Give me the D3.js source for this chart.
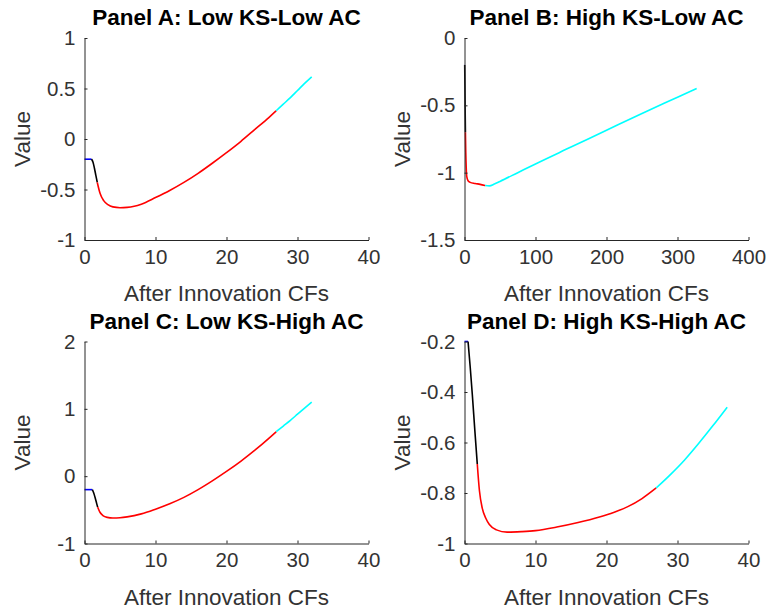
<!DOCTYPE html>
<html>
<head>
<meta charset="utf-8">
<script src="https://cdn.jsdelivr.net/npm/d3@7"></script>
<style>
  body { margin: 0; background: #fff; }
  svg { display: block; }
</style>
</head>
<body>
<div class="canvas"></div>
<script>
'use strict';

// panel titles and tick values
var titles = ['Panel A: Low KS-Low AC', 'Panel B: High KS-Low AC', 'Panel C: Low KS-High AC', 'Panel D: High KS-High AC'];
var xTicksShort = [0, 10, 20, 30, 40];
var xTicksLong = [0, 100, 200, 300, 400];
var yTicksA = [-1, -0.5, 0, 0.5, 1];
var yTicksB = [-1.5, -1, -0.5, 0];
var yTicksC = [-1, 0, 1, 2];
var yTicksD = [-1, -0.8, -0.6, -0.4, -0.2];

// curve pieces [x, value]
var aBlue = [[0, -0.2], [0.5, -0.2], [1.0, -0.2]];
var aBlack = [[1.0, -0.2], [1.2, -0.23], [1.4, -0.29], [1.6, -0.36], [1.8, -0.43]];
var aRed = [[1.8, -0.43], [2.2, -0.54], [2.7, -0.61], [3.3, -0.65], [4, -0.672], [5, -0.68], [6, -0.677], [7, -0.666], [8, -0.645],
    [10, -0.58], [12, -0.51], [14, -0.43], [16, -0.34], [18, -0.24], [20, -0.135], [22, -0.025], [24, 0.095], [26, 0.215], [27, 0.28]];
var aCyan = [[27, 0.28], [28, 0.345], [29, 0.41], [30, 0.48], [31, 0.55], [32, 0.615]];

var bBlue = [[0, -0.2], [0.3, -0.2]];
var bBlack = [[0.3, -0.2], [0.6, -0.35], [0.9, -0.52], [1.3, -0.7]];
var bRed = [[1.3, -0.7], [1.8, -0.85], [2.4, -0.96], [3.2, -1.03], [5, -1.06], [8, -1.072], [15, -1.08], [22, -1.087], [29, -1.095]];
var bCyan = [[29, -1.095], [35, -1.098], [42, -1.085], [50, -1.065], [75, -1.0], [100, -0.935], [150, -0.81], [200, -0.685], [250, -0.56], [300, -0.44], [327, -0.375]];

var cBlue = [[0, -0.2], [0.5, -0.2], [1.1, -0.2]];
var cBlack = [[1.1, -0.2], [1.3, -0.25], [1.5, -0.32], [1.7, -0.4], [1.85, -0.46]];
var cRed = [[1.85, -0.46], [2.2, -0.54], [2.6, -0.585], [3.2, -0.612], [4, -0.622], [5, -0.618], [6, -0.605], [8, -0.56],
    [10, -0.49], [12, -0.41], [14, -0.315], [16, -0.2], [18, -0.07], [20, 0.07], [22, 0.22], [24, 0.385], [26, 0.565], [27, 0.66]];
var cCyan = [[27, 0.66], [28, 0.745], [29, 0.83], [30, 0.92], [31, 1.01], [32, 1.1]];

var dBlue = [[0, -0.2], [0.5, -0.2]];
var dBlack = [[0.5, -0.2], [0.8, -0.3], [1.1, -0.41], [1.45, -0.55], [1.8, -0.685]];
var dRed = [[1.8, -0.685], [2.1, -0.79], [2.5, -0.86], [3, -0.9], [3.5, -0.925], [4.5, -0.946], [6, -0.955], [8, -0.953],
    [10, -0.949], [13, -0.935], [16, -0.917], [19, -0.895], [21, -0.877], [23, -0.854], [25, -0.822], [27, -0.78]];
var dCyan = [[27, -0.78], [29, -0.727], [31, -0.669], [33, -0.603], [35, -0.533], [37, -0.46]];

var segColors = ['#0000ff', '#000000', '#ff0000', '#00ffff'];

// layout of the four axes boxes
var plotW = 284, plotH = 202;
var panels = [
    { title: titles[0], left: 84.5, top: 38, xDomain: [0, 40], xTicks: xTicksShort, yDomain: [-1, 1], yTicks: yTicksA, segs: [aBlue, aBlack, aRed, aCyan] },
    { title: titles[1], left: 464.5, top: 38, xDomain: [0, 400], xTicks: xTicksLong, yDomain: [-1.5, 0], yTicks: yTicksB, segs: [bBlue, bBlack, bRed, bCyan] },
    { title: titles[2], left: 84.5, top: 341.5, xDomain: [0, 40], xTicks: xTicksShort, yDomain: [-1, 2], yTicks: yTicksC, segs: [cBlue, cBlack, cRed, cCyan] },
    { title: titles[3], left: 464.5, top: 341.5, xDomain: [0, 40], xTicks: xTicksShort, yDomain: [-1, -0.2], yTicks: yTicksD, segs: [dBlue, dBlack, dRed, dCyan] }
];

var svg = d3.select(".canvas")
    .append("svg")
    .attr("width", 768)
    .attr("height", 616)
    .style("font-family", "'Liberation Sans', Arial, sans-serif");

panels.forEach(function(p) {
    var xScale = d3.scaleLinear().domain(p.xDomain).range([0, plotW]);
    var yScale = d3.scaleLinear().domain(p.yDomain).range([plotH, 0]);

    var g = svg.append("g").attr("transform", "translate(" + p.left + "," + p.top + ")");

    var line = d3.line()
        .x(function(d) { return xScale(d[0]); })
        .y(function(d) { return yScale(d[1]); })
        .curve(d3.curveMonotoneX);

    p.segs.forEach(function(s, i) {
        g.append("path")
            .datum(s)
            .attr("d", line)
            .attr("fill", "none")
            .attr("stroke", segColors[i])
            .attr("stroke-width", 1.6)
            .attr("stroke-linejoin", "round");
    });

    var xAxis = g.append("g")
        .attr("transform", "translate(0," + plotH + ")")
        .call(d3.axisBottom(xScale).tickValues(p.xTicks).tickFormat(function(d) { return String(d); })
            .tickSizeInner(-3).tickSizeOuter(0).tickPadding(9));
    var yAxis = g.append("g")
        .call(d3.axisLeft(yScale).tickValues(p.yTicks).tickFormat(function(d) { return String(d); })
            .tickSizeInner(-3).tickSizeOuter(0).tickPadding(9));

    [xAxis, yAxis].forEach(function(ax) {
        ax.select(".domain").attr("stroke", "#262626").attr("stroke-width", 1);
        ax.selectAll(".tick line").attr("stroke", "#262626");
        ax.selectAll(".tick text")
            .attr("fill", "#333")
            .style("font-size", "20.5px")
            .style("font-family", "'Liberation Sans', Arial, sans-serif");
    });

    g.append("text")
        .attr("x", plotW / 2)
        .attr("y", plotH + 61)
        .attr("text-anchor", "middle")
        .attr("fill", "#333")
        .style("font-size", "22.5px")
        .text("After Innovation CFs");

    g.append("text")
        .attr("transform", "translate(-54.5," + (plotH / 2) + ") rotate(-90)")
        .attr("text-anchor", "middle")
        .attr("fill", "#333")
        .style("font-size", "22.5px")
        .text("Value");

    g.append("text")
        .attr("x", plotW / 2)
        .attr("y", -13)
        .attr("text-anchor", "middle")
        .attr("fill", "#000")
        .style("font-size", "22.5px")
        .style("font-weight", "bold")
        .text(p.title);
});
</script>
</body>
</html>
